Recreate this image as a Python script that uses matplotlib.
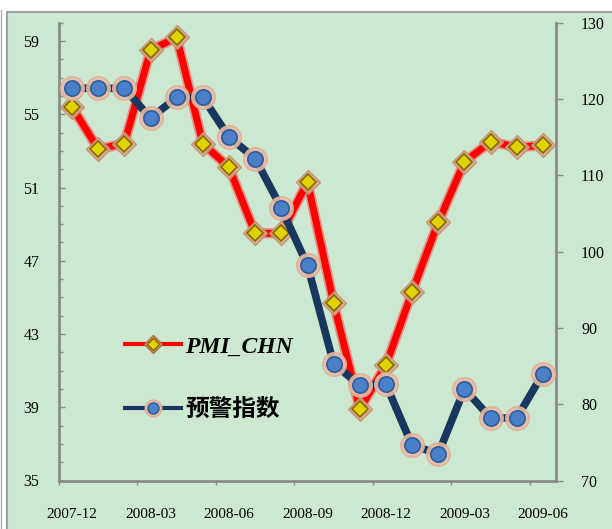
import matplotlib
matplotlib.use("Agg")
import matplotlib.pyplot as plt
from matplotlib.lines import Line2D
from matplotlib.patches import Rectangle
from matplotlib.legend_handler import HandlerTuple
from matplotlib.ticker import MultipleLocator, FixedLocator
import numpy as np

plt.rcParams['font.family'] = ['Liberation Serif', 'Noto Sans CJK SC']

months = ["2007-12", "2008-01", "2008-02", "2008-03", "2008-04", "2008-05",
          "2008-06", "2008-07", "2008-08", "2008-09", "2008-10", "2008-11",
          "2008-12", "2009-01", "2009-02", "2009-03", "2009-04", "2009-05",
          "2009-06"]
pmi = [55.4, 53.1, 53.4, 58.5, 59.2, 53.4, 52.1, 48.5, 48.5, 51.3,
       44.7, 38.9, 41.3, 45.3, 49.1, 52.4, 53.5, 53.2, 53.3]
warn = [121.4, 121.4, 121.4, 117.5, 120.2, 120.2, 115.0, 112.2, 105.7, 98.2,
        85.3, 82.5, 82.6, 74.6, 73.5, 82.0, 78.2, 78.2, 84.0]
names = ["PMI_CHN", "预警指数"]

green = '#cde8d0'
grey = '#8a8a8a'
W, H = 612, 529

fig = plt.figure(figsize=(W / 100, H / 100), dpi=100)
fig.patch.set_facecolor('white')
# chart area box (only left/top border visible)
fig.patches.append(Rectangle((7 / W, -0.05), 1.1, 1 - 12 / H + 0.05,
                             transform=fig.transFigure, fc=green,
                             ec='#a0a0a0', lw=1.5, zorder=-5))
fig.add_artist(Line2D([0.8 / W, 0.8 / W], [0, 1 - 10 / H],
                      transform=fig.transFigure, color='#b0b0b0', lw=1))

ax = fig.add_axes([59 / W, 1 - 480.5 / H, (556 - 59) / W, (480.5 - 22.7) / H])
ax.set_facecolor(green)
x = np.arange(len(months))

# PMI on left axis
ax.plot(x, pmi, color='#ff3030', lw=7.5, alpha=0.45, solid_capstyle='round', zorder=2)
ax.plot(x, pmi, color='#ff0000', lw=5, zorder=3)
ax.plot(x, pmi, ls='none', marker='D', ms=12, mfc='#d7a98c', mec='#c49070', mew=1, alpha=0.9, zorder=4)
ax.plot(x, pmi, ls='none', marker='D', ms=8, mfc='#e0d400', mec='#8a6a00', mew=1.2, zorder=5)

ax.set_xlim(-0.5, len(months) - 0.5)
ax.set_ylim(35, 60)
ax.yaxis.set_major_locator(FixedLocator([35, 39, 43, 47, 51, 55, 59]))
ax.yaxis.set_minor_locator(MultipleLocator(1))
ax.tick_params(axis='y', which='major', direction='in', length=4, width=1,
               color=grey, labelsize=11.5, pad=14)
ax.tick_params(axis='y', which='minor', direction='in', length=3, width=1, color=grey)

ax.xaxis.set_major_locator(FixedLocator(x[::3]))
ax.set_xticklabels(months[::3])
ax.xaxis.set_minor_locator(FixedLocator(np.arange(-0.5, len(months) - 1, 3)))
ax.tick_params(axis='x', which='major', length=0, labelsize=11, pad=20)
ax.tick_params(axis='x', which='minor', direction='out', length=3, width=1, color=grey)

for s in ['top', 'right']:
    ax.spines[s].set_visible(False)
for s in ['left', 'bottom']:
    ax.spines[s].set_color(grey)
    ax.spines[s].set_linewidth(2)

# warning index on right axis
ax2 = ax.twinx()
ax2.plot(x, warn, color='#17375e', lw=5.5, zorder=3)
ax2.plot(x, warn, ls='none', marker='o', ms=17, mfc='#e9bba4', mec='#dfae98', mew=1, alpha=0.9, zorder=4)
ax2.plot(x, warn, ls='none', marker='o', ms=11, mfc='#4a80c8', mec='#2e5c9a', mew=1.2, zorder=5)
ax2.set_ylim(70, 130)
ax2.yaxis.set_major_locator(MultipleLocator(10))
ax2.tick_params(axis='y', direction='out', length=5, width=1, color=grey,
                labelsize=11.5, pad=13)
for s in ['top', 'left', 'bottom']:
    ax2.spines[s].set_visible(False)
ax2.spines['right'].set_color(grey)
ax2.spines['right'].set_linewidth(2)

# legend proxies
h1 = (Line2D([], [], color='#ff0000', lw=3),
      Line2D([], [], ls='none', marker='D', ms=9, mfc='#c08a5a', mec='#b07040'),
      Line2D([], [], ls='none', marker='D', ms=6, mfc='#e0d400', mec='#8a6a00'))
h2 = (Line2D([], [], color='#17375e', lw=3),
      Line2D([], [], ls='none', marker='o', ms=12, mfc='#e9bba4', mec='#dfae98'),
      Line2D([], [], ls='none', marker='o', ms=8, mfc='#4a80c8', mec='#2e5c9a'))
ax2.legend([h1, h2], names, handler_map={tuple: HandlerTuple(ndivide=1)},
           loc='center left', bbox_to_anchor=(0.133, 0.223), frameon=False,
           borderpad=0, borderaxespad=0, handlelength=2.35, handletextpad=0.2,
           labelspacing=1.75,
           prop={'family': ['Liberation Serif', 'Noto Sans CJK SC'],
                 'weight': 'bold', 'style': 'italic', 'size': 17})

fig.savefig("out.png", dpi=100)
